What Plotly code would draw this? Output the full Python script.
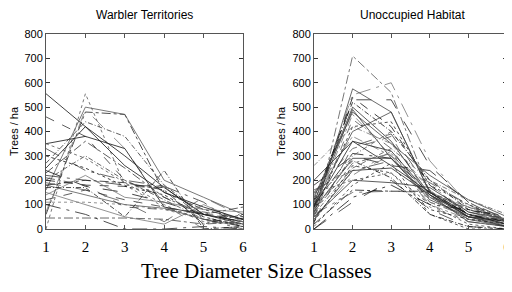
import plotly.graph_objects as go

size_classes = [1, 2, 3, 4, 5, 6]

warbler_lines = [
    [555, 420, 300, 170, 60, 20],
    [460, 380, 200, 130, 50, 10],
    [0, 555, 180, 90, 40, 20],
    [60, 480, 470, 150, 80, 40],
    [70, 490, 330, 100, 0, 10],
    [330, 240, 200, 175, 40, 0],
    [350, 380, 330, 90, 60, 30],
    [270, 440, 380, 180, 60, 30],
    [160, 500, 470, 200, 130, 60],
    [200, 180, 175, 170, 60, 40],
    [110, 110, 100, 80, 40, 30],
    [45, 45, 45, 40, 20, 30],
    [240, 175, 150, 110, 60, 30],
    [220, 200, 180, 175, 110, 0],
    [180, 140, 100, 85, 40, 10],
    [170, 170, 50, 240, 0, 10],
    [150, 100, 50, 20, 100, 30],
    [210, 180, 90, 80, 70, 40],
    [300, 250, 175, 140, 50, 10],
    [230, 360, 250, 130, 60, 90],
    [190, 160, 110, 30, 130, 50],
    [100, 60, 0, 0, 10, 0],
    [140, 220, 130, 110, 80, 70],
    [200, 300, 200, 120, 40, 20],
    [250, 420, 260, 150, 90, 40],
    [120, 160, 120, 90, 60, 50],
    [350, 290, 190, 100, 30, 20],
    [180, 200, 190, 160, 20, 60],
]

unoccupied_lines = [
    [20, 710, 560, 150, 80, 30],
    [80, 530, 530, 260, 110, 40],
    [100, 550, 600, 280, 100, 30],
    [60, 575, 480, 150, 60, 20],
    [120, 520, 400, 200, 80, 40],
    [90, 490, 290, 130, 40, 10],
    [50, 450, 330, 110, 50, 20],
    [70, 420, 440, 180, 100, 40],
    [140, 380, 300, 100, 40, 10],
    [30, 340, 390, 160, 70, 30],
    [100, 310, 290, 150, 60, 20],
    [80, 290, 290, 120, 50, 40],
    [60, 250, 330, 200, 90, 30],
    [40, 240, 250, 140, 60, 20],
    [110, 230, 300, 180, 70, 10],
    [150, 200, 230, 100, 20, 0],
    [20, 160, 155, 155, 60, 30],
    [0, 110, 200, 80, 10, 0],
    [60, 150, 155, 150, 90, 40],
    [200, 360, 320, 140, 50, 30],
    [260, 420, 350, 160, 40, 20],
    [130, 480, 350, 220, 120, 50],
    [90, 540, 420, 180, 60, 30],
    [10, 180, 270, 60, 0, 0],
    [70, 270, 310, 130, 80, 40],
    [180, 300, 260, 240, 110, 30],
    [40, 220, 320, 90, 30, 10],
    [100, 400, 480, 150, 50, 20],
    [120, 280, 210, 60, 10, 0],
    [50, 200, 190, 170, 70, 40],
    [150, 330, 380, 120, 90, 50],
    [30, 260, 230, 80, 40, 20],
    [80, 470, 300, 110, 60, 40],
    [160, 240, 280, 190, 100, 30],
    [0, 130, 180, 100, 80, 50],
    [110, 500, 360, 140, 30, 10],
    [70, 300, 400, 200, 120, 60],
    [90, 360, 260, 150, 50, 10],
]

panel_titles = ["Warbler Territories", "Unoccupied Habitat"]
y_title = "Trees / ha"
x_title = "Tree Diameter Size Classes"

dashes = ["solid", "dash", "dot", "dashdot", "longdash", "longdashdot", "solid", "5px,2px,1px,2px"]
colors = ["#111111", "#333333", "#555555", "#222222", "#777777", "#444444"]

# page is offset by the default 8px body margin
OFF = 8
W, H = 512 - OFF, 292 - OFF


def px_x(p):
    return (p - OFF) / W


def px_y(p):
    return 1 - (p - OFF) / H


fig = go.Figure()

for i, ys in enumerate(warbler_lines):
    fig.add_trace(go.Scatter(x=size_classes, y=ys, mode="lines", xaxis="x", yaxis="y",
                             line=dict(color=colors[i % len(colors)], width=0.8,
                                       dash=dashes[i % len(dashes)]),
                             showlegend=False, hoverinfo="skip"))
for i, ys in enumerate(unoccupied_lines):
    fig.add_trace(go.Scatter(x=size_classes, y=ys, mode="lines", xaxis="x2", yaxis="y2",
                             line=dict(color=colors[(i + 2) % len(colors)], width=0.8,
                                       dash=dashes[(i + 3) % len(dashes)]),
                             showlegend=False, hoverinfo="skip"))

xax = dict(range=[1, 6], tickvals=size_classes, ticks="inside", ticklen=4, tickcolor="#555",
           showline=True, linecolor="#555", linewidth=1, mirror="ticks", showgrid=False,
           zeroline=False, automargin=False, ticklabeloverflow="allow",
           tickfont=dict(family="Liberation Serif", size=15, color="#000"),
           ticklabelstandoff=4)
yax = dict(range=[0, 800], tickvals=[0, 100, 200, 300, 400, 500, 600, 700, 800], ticks="inside",
           ticklen=4, tickcolor="#333", showline=True, linecolor="#555", linewidth=1, mirror="ticks",
           showgrid=False, zeroline=False, automargin=False,
           tickfont=dict(family="Liberation Sans", size=11, color="#000"),
           title=dict(text=y_title, font=dict(family="Liberation Sans", size=11, color="#000"), standoff=4))

fig.update_layout(
    width=W, height=H,
    margin=dict(l=0, r=0, t=0, b=0, autoexpand=False),
    plot_bgcolor="white", paper_bgcolor="white",
    xaxis=dict(xax, domain=[px_x(46), px_x(243)], anchor="y"),
    yaxis=dict(yax, domain=[px_y(229), px_y(34)], anchor="x"),
    xaxis2=dict(xax, domain=[px_x(314), px_x(507)], anchor="y2"),
    yaxis2=dict(yax, domain=[px_y(229), px_y(34)], anchor="x2"),
    annotations=[
        dict(text=panel_titles[0], x=px_x(144), y=px_y(15), xref="paper", yref="paper",
             xanchor="center", yanchor="middle", showarrow=False,
             font=dict(family="Liberation Sans", size=12, color="#000")),
        dict(text=panel_titles[1], x=px_x(412), y=px_y(15), xref="paper", yref="paper",
             xanchor="center", yanchor="middle", showarrow=False,
             font=dict(family="Liberation Sans", size=12, color="#000")),
        dict(text=x_title, x=px_x(256), y=px_y(271), xref="paper", yref="paper",
             xanchor="center", yanchor="middle", showarrow=False,
             font=dict(family="Liberation Serif", size=21, color="#000")),
    ],
)

fig.write_html("out.html")
